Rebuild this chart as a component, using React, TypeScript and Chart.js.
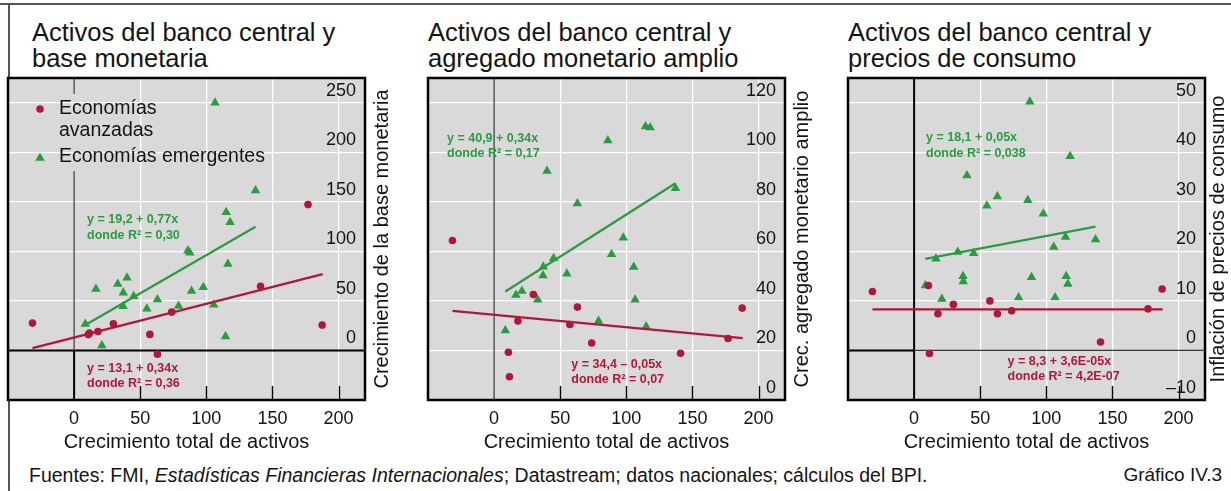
import React, { useEffect, useRef } from "react";
import { Chart, registerables } from "chart.js";

Chart.register(...registerables);

const RED = "#b0173b";
const GREEN = "#2b9b40";
const PLOT_BG = "#d9d9d9";
const INK = "#141414";
const FONT = "'Liberation Sans', Arial, Helvetica, sans-serif";

// Crecimiento total de activos (eje x), compartido entre los tres paneles
const advancedX = [-31.5, 10.8, 11.6, 18, 29.7, 57.3, 63, 73.8, 141, 176.9, 187.6];
const emergingX = [8.5, 16.5, 21, 33, 37, 37.2, 40, 45, 55, 63, 79, 86, 87.5, 88.8, 97.7, 105.6, 106.6, 114.5, 115, 116.3, 118, 137.2];

// Panel 1: base monetaria
const baseAdvY = [27.6, 16, 17.5, 19.2, 27, 16.2, -3.7, 38.7, 64.7, 147.2, 25.6];
const baseEmgY = [26.6, 62, 5, 67, 44.5, 58.3, 73.4, 54.6, 42.1, 51.5, 44.8, 100.7, 98.7, 60, 63.7, 46.2, 250, 14.2, 139.5, 87.3, 129.4, 161.4];

// Panel 2: agregado monetario amplio
const broadAdvY = [64.4, 19.3, 9.4, 31.9, 42.6, 30.5, 37.5, 23, 18.9, 24.8, 37.1];
const broadEmgY = [28.1, 42.4, 44, 40.5, 50.3, 53.8, 92.5, 57.2, 51, 79.3, 31.9, 104.8, null, 58.8, 65.5, 53.7, 40.5, 110.4, 29.7, null, 110, 85.5];

// Panel 3: precios de consumo
const cpiAdvY = [11.9, 13.1, -0.6, 7.4, 9.3, 10, 7.4, 8, 1.7, 8.4, 12.4];
const cpiEmgY = [13.1, 18.5, 10.4, 19.9, 15, 13.9, 35.3, 19.6, 29.2, 31.1, 10.7, 30.3, 50.2, 14.8, 27.6, 20.9, 10.7, 22.9, 15, 13.4, 39.2, 22.4];

// Rectas de regresión (extremos)
const advFitX = [-31.5, 188];
const emgFitX = [8.5, 137.2];
const baseAdvFitY = [2.4, 77];
const baseEmgFitY = [25.7, 124.8];
const broadAdvFitY = [36, 25];
const broadEmgFitY = [43.8, 87.5];
const cpiAdvFitY = [8.3, 8.3];
const cpiEmgFitY = [18.5, 25];

// Ticks
const xTicks = [0, 50, 100, 150, 200];
const baseYTicks = [0, 50, 100, 150, 200, 250];
const broadYTicks = [0, 20, 40, 60, 80, 100, 120];
const cpiYTicks = [-10, 0, 10, 20, 30, 40, 50];

// Textos
const legendLabels = [["Economías", "avanzadas"], ["Economías emergentes"]];
const baseEqAdv = ["y = 13,1 + 0,34x", "donde R² = 0,36"];
const baseEqEmg = ["y = 19,2 + 0,77x", "donde R² = 0,30"];
const broadEqAdv = ["y = 34,4 – 0,05x", "donde R² = 0,07"];
const broadEqEmg = ["y = 40,9 + 0,34x", "donde R² = 0,17"];
const cpiEqAdv = ["y = 8,3 + 3,6E-05x", "donde R² = 4,2E-07"];
const cpiEqEmg = ["y = 18,1 + 0,05x", "donde R² = 0,038"];

type Seg = { dir: "v" | "h"; from: number | "min" | "max"; to: number | "min" | "max"; thick: boolean };

type PanelCfg = {
  left: number;
  width: number;
  titleLeft: number;
  title: string[];
  yTitle: string;
  yMin: number;
  yMax: number;
  yTicks: number[];
  advY: (number | null)[];
  emgY: (number | null)[];
  advFitY: number[];
  emgFitY: number[];
  eqAdv: string[];
  eqEmg: string[];
  eqAdvPos: [number, number];
  eqEmgPos: [number, number];
  yTitleOffset: number;
  zero: Seg[];
  legend: boolean;
};

const panels: PanelCfg[] = [
  {
    left: 0, width: 420, titleLeft: 32,
    title: ["Activos del banco central y", "base monetaria"],
    yTitle: "Crecimiento de la base monetaria",
    yMin: -50, yMax: 275, yTicks: baseYTicks,
    advY: baseAdvY, emgY: baseEmgY, advFitY: baseAdvFitY, emgFitY: baseEmgFitY,
    eqAdv: baseEqAdv, eqEmg: baseEqEmg, eqAdvPos: [9.8, -17.8], eqEmgPos: [9.8, 132],
    yTitleOffset: 17,
    zero: [
      { dir: "v", from: 0, to: "max", thick: false },
      { dir: "v", from: "min", to: 0, thick: true },
      { dir: "h", from: "min", to: "max", thick: true },
    ],
    legend: true,
  },
  {
    left: 420, width: 420, titleLeft: 428,
    title: ["Activos del banco central y", "agregado monetario amplio"],
    yTitle: "Crec. agregado monetario amplio",
    yMin: 0, yMax: 130, yTicks: broadYTicks,
    advY: broadAdvY, emgY: broadEmgY, advFitY: broadAdvFitY, emgFitY: broadEmgFitY,
    eqAdv: broadEqAdv, eqEmg: broadEqEmg, eqAdvPos: [58.4, 14.4], eqEmgPos: [-35.6, 105.7],
    yTitleOffset: 17,
    zero: [{ dir: "v", from: "min", to: "max", thick: false }],
    legend: false,
  },
  {
    left: 840, width: 391, titleLeft: 848,
    title: ["Activos del banco central y", "precios de consumo"],
    yTitle: "Inflación de precios de consumo",
    yMin: -10, yMax: 55, yTicks: cpiYTicks,
    advY: cpiAdvY, emgY: cpiEmgY, advFitY: cpiAdvFitY, emgFitY: cpiEmgFitY,
    eqAdv: cpiEqAdv, eqEmg: cpiEqEmg, eqAdvPos: [70.7, -2.2], eqEmgPos: [9, 42.9],
    yTitleOffset: 13,
    zero: [
      { dir: "v", from: "min", to: "max", thick: true },
      { dir: "h", from: "min", to: 0, thick: true },
      { dir: "h", from: 0, to: "max", thick: false },
    ],
    legend: false,
  },
];

const CANVAS_TOP = 48;
const CANVAS_H = 412;
const AREA_TOP = 30; // -> 78 on the page
const AREA_RIGHT = 365; // local
const X_AXIS_H = 56;

function drawTriangle(ctx: CanvasRenderingContext2D, x: number, y: number, r: number) {
  ctx.beginPath();
  ctx.moveTo(x, y - r);
  ctx.lineTo(x + 0.866 * r, y + 0.5 * r);
  ctx.lineTo(x - 0.866 * r, y + 0.5 * r);
  ctx.closePath();
  ctx.fill();
}

const decorPlugin = {
  id: "panelDecor",
  beforeDraw(chart: any) {
    const { ctx, chartArea: a } = chart;
    ctx.save();
    ctx.fillStyle = PLOT_BG;
    ctx.fillRect(a.left, a.top, a.right - a.left, a.bottom - a.top);
    ctx.restore();
  },
  beforeDatasetsDraw(chart: any, _args: any, opts: any) {
    const cfg: PanelCfg = opts.cfg;
    const { ctx, chartArea: a } = chart;
    const xs = chart.scales.x;
    const ys = chart.scales.y;
    ctx.save();
    // inward tick marks on the bottom edge
    ctx.strokeStyle = "#000";
    ctx.lineWidth = 1.4;
    for (const t of xs.ticks) {
      if (t.value === 0) continue;
      const px = Math.round(xs.getPixelForValue(t.value)) + 0.5;
      ctx.beginPath();
      ctx.moveTo(px, a.bottom);
      ctx.lineTo(px, a.bottom - 14);
      ctx.stroke();
    }
    // zero lines
    const gapTop = a.top + 16;
    const gapBot = a.top + 93;
    for (const s of cfg.zero) {
      ctx.lineWidth = s.thick ? 2 : 1.2;
      ctx.strokeStyle = s.thick ? "#000" : "#3a3a3a";
      if (s.dir === "v") {
        const px = xs.getPixelForValue(0);
        const y1 = s.from === "min" ? a.bottom : s.from === "max" ? a.top : ys.getPixelForValue(s.from);
        const y2 = s.to === "min" ? a.bottom : s.to === "max" ? a.top : ys.getPixelForValue(s.to);
        const top = Math.min(y1, y2);
        const bot = Math.max(y1, y2);
        const parts: [number, number][] = cfg.legend && top < gapTop ? [[top, gapTop], [gapBot, bot]] : [[top, bot]];
        for (const [p, q] of parts) {
          ctx.beginPath();
          ctx.moveTo(px, p);
          ctx.lineTo(px, q);
          ctx.stroke();
        }
      } else {
        const py = ys.getPixelForValue(0);
        const x1 = s.from === "min" ? a.left : s.from === "max" ? a.right : xs.getPixelForValue(s.from);
        const x2 = s.to === "min" ? a.left : s.to === "max" ? a.right : xs.getPixelForValue(s.to);
        ctx.beginPath();
        ctx.moveTo(x1, py);
        ctx.lineTo(x2, py);
        ctx.stroke();
      }
    }
    ctx.restore();
  },
  afterDatasetsDraw(chart: any, _args: any, opts: any) {
    const cfg: PanelCfg = opts.cfg;
    const { ctx, chartArea: a } = chart;
    const xs = chart.scales.x;
    const ys = chart.scales.y;
    ctx.save();
    // regression equations
    ctx.font = `bold 12.5px ${FONT}`;
    ctx.textAlign = "left";
    ctx.textBaseline = "middle";
    const drawEq = (lines: string[], pos: [number, number], color: string) => {
      ctx.fillStyle = color;
      const px = xs.getPixelForValue(pos[0]);
      const py = ys.getPixelForValue(pos[1]);
      lines.forEach((l, i) => ctx.fillText(l, px, py + i * 15.5));
    };
    drawEq(cfg.eqEmg, cfg.eqEmgPos, GREEN);
    drawEq(cfg.eqAdv, cfg.eqAdvPos, RED);

    // legend
    if (cfg.legend) {
      ctx.font = `19.5px ${FONT}`;
      const lx = a.left + 32;
      const tx = a.left + 51;
      ctx.fillStyle = RED;
      ctx.beginPath();
      ctx.arc(lx, a.top + 31, 3.8, 0, Math.PI * 2);
      ctx.fill();
      ctx.fillStyle = GREEN;
      drawTriangle(ctx, lx, a.top + 80, 5.5);
      ctx.fillStyle = INK;
      legendLabels[0].forEach((l, i) => ctx.fillText(l, tx, a.top + 31 + i * 22));
      legendLabels[1].forEach((l, i) => ctx.fillText(l, tx, a.top + 79 + i * 22));
    }
    ctx.restore();
  },
  afterDraw(chart: any, _args: any, opts: any) {
    const cfg: PanelCfg = opts.cfg;
    const { ctx, chartArea: a } = chart;
    ctx.save();
    ctx.strokeStyle = "#000";
    ctx.lineWidth = 2.5;
    ctx.strokeRect(a.left, a.top, a.right - a.left, a.bottom - a.top);
    // right-hand y title, reading bottom to top
    ctx.translate(a.right + cfg.yTitleOffset, (a.top + a.bottom) / 2);
    ctx.rotate(-Math.PI / 2);
    ctx.font = `20px ${FONT}`;
    ctx.fillStyle = INK;
    ctx.textAlign = "center";
    ctx.textBaseline = "middle";
    ctx.fillText(cfg.yTitle, 0, 0);
    ctx.restore();
  },
};

function ScatterPanel({ cfg }: { cfg: PanelCfg }) {
  const ref = useRef<HTMLCanvasElement | null>(null);
  useEffect(() => {
    if (!ref.current) return;
    const chart = new Chart(ref.current, {
      type: "scatter",
      data: {
        datasets: [
          {
            label: "Ajuste avanzadas",
            data: advFitX.map((x, i) => ({ x, y: cfg.advFitY[i] })),
            showLine: true,
            borderColor: RED,
            borderWidth: 2.2,
            pointRadius: 0,
            fill: false,
          },
          {
            label: "Ajuste emergentes",
            data: emgFitX.map((x, i) => ({ x, y: cfg.emgFitY[i] })),
            showLine: true,
            borderColor: GREEN,
            borderWidth: 2.2,
            pointRadius: 0,
            fill: false,
          },
          {
            label: "Economías avanzadas",
            data: advancedX.map((x, i) => ({ x, y: cfg.advY[i] as any })),
            pointStyle: "circle",
            pointRadius: 3.8,
            pointBackgroundColor: RED,
            pointBorderWidth: 0,
            backgroundColor: RED,
            borderColor: RED,
          },
          {
            label: "Economías emergentes",
            data: emergingX.map((x, i) => ({ x, y: cfg.emgY[i] as any })),
            pointStyle: "triangle",
            pointRadius: 5.5,
            pointBackgroundColor: GREEN,
            pointBorderWidth: 0,
            backgroundColor: GREEN,
            borderColor: GREEN,
          },
        ],
      },
      options: {
        animation: false,
        responsive: false,
        events: [],
        layout: { padding: { left: 8, top: AREA_TOP, right: cfg.width - AREA_RIGHT, bottom: CANVAS_H - AREA_TOP - 322 - X_AXIS_H } },
        plugins: {
          legend: { display: false },
          tooltip: { enabled: false },
          panelDecor: { cfg },
        } as any,
        scales: {
          x: {
            type: "linear",
            min: -50,
            max: 220,
            afterBuildTicks: (s: any) => {
              s.ticks = xTicks.map((v) => ({ value: v }));
            },
            afterFit: (s: any) => {
              s.height = X_AXIS_H;
            },
            grid: {
              color: (c: any) => (c.tick && c.tick.value === 0 ? "rgba(0,0,0,0)" : "#ffffff"),
              lineWidth: 1.3,
              drawTicks: false,
            },
            border: { display: false },
            ticks: { font: { family: FONT, size: 18 }, color: INK, padding: 8, maxRotation: 0, autoSkip: false },
            title: {
              display: true,
              text: "Crecimiento total de activos",
              font: { family: FONT, size: 20 },
              color: INK,
              padding: { top: 0, bottom: 2 },
            },
          },
          y: {
            type: "linear",
            position: "right",
            min: cfg.yMin,
            max: cfg.yMax,
            afterBuildTicks: (s: any) => {
              s.ticks = cfg.yTicks.map((v) => ({ value: v }));
            },
            afterFit: (s: any) => {
              s.width = 0;
            },
            grid: {
              color: (c: any) => (c.tick && c.tick.value === 0 ? "rgba(0,0,0,0)" : "#ffffff"),
              lineWidth: 1.3,
              drawTicks: false,
            },
            border: { display: false },
            ticks: {
              mirror: true,
              padding: -9,
              labelOffset: -12,
              font: { family: FONT, size: 18 },
              color: INK,
              callback: (v: any) => (Number(v) < 0 ? "–" + Math.abs(Number(v)) : String(v)),
            },
          },
        },
      },
      plugins: [decorPlugin as any],
    });
    return () => chart.destroy();
  }, [cfg]);
  return (
    <canvas
      ref={ref}
      width={cfg.width}
      height={CANVAS_H}
      style={{ position: "absolute", left: cfg.left, top: CANVAS_TOP, width: cfg.width, height: CANVAS_H, display: "block" }}
    />
  );
}

export default function App() {
  return (
    <div
      style={{
        position: "absolute",
        left: 0,
        top: 0,
        width: 1231,
        height: 491,
        background: "#fff",
        overflow: "hidden",
        fontFamily: FONT,
        color: INK,
      }}
    >
      <div style={{ position: "absolute", left: 0, top: 3, width: 1231, height: 2, background: "#555" }} />
      <div style={{ position: "absolute", left: 8, top: 3, width: 2, height: 488, background: "#555" }} />
      {panels.map((p, i) => (
        <div
          key={"t" + i}
          style={{ position: "absolute", left: p.titleLeft, top: 19, fontSize: 25.5, lineHeight: "26px", whiteSpace: "nowrap" }}
        >
          {p.title.map((l, j) => (
            <div key={j}>{l}</div>
          ))}
        </div>
      ))}
      {panels.map((p, i) => (
        <ScatterPanel key={"c" + i} cfg={p} />
      ))}
      <div style={{ position: "absolute", left: 29, top: 464, fontSize: 19.5, lineHeight: "22px", whiteSpace: "nowrap" }}>
        Fuentes: FMI, <i>Estadísticas Financieras Internacionales</i>; Datastream; datos nacionales; cálculos del BPI.
      </div>
      <div style={{ position: "absolute", right: 9, top: 464, fontSize: 19, lineHeight: "22px", whiteSpace: "nowrap" }}>
        Gráfico IV.3
      </div>
    </div>
  );
}
